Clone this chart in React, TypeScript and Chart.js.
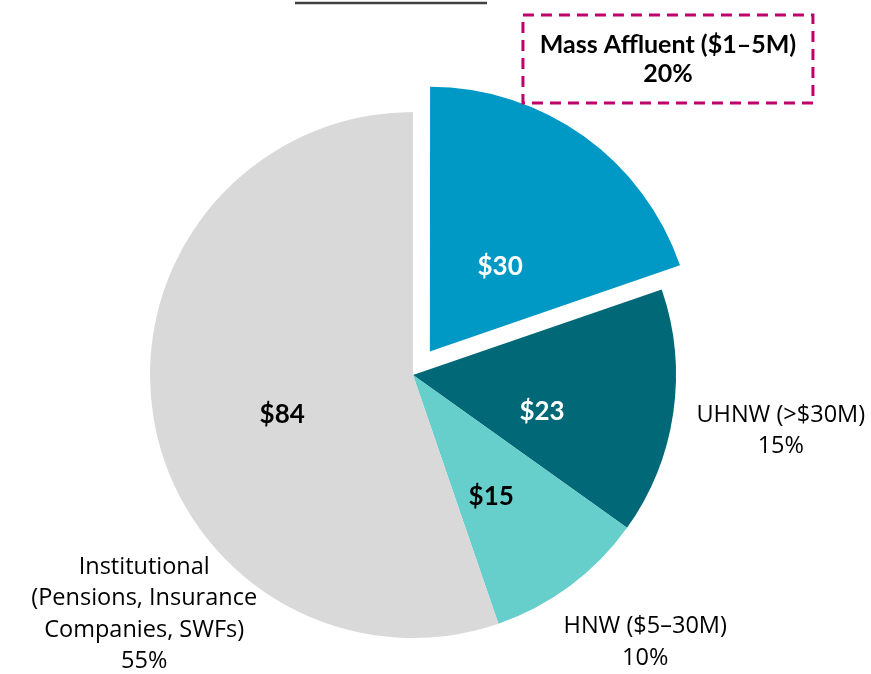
import React, { useEffect, useRef } from "react";
import { Chart, registerables } from "chart.js";

Chart.register(...registerables);

const categories = ["Mass Affluent ($1–5M)", "UHNW (>$30M)", "HNW ($5–30M)", "Institutional"];
const values = [30, 23, 15, 84];
const valueLabels = ["$30", "$23", "$15", "$84"];
const shareLabels = ["20%", "15%", "10%", "55%"];
const outerNames = [
  ["Mass Affluent ($1–5M)"],
  ["UHNW (>$30M)"],
  ["HNW ($5–30M)"],
  ["Institutional", "(Pensions, Insurance", "Companies, SWFs)"],
];
const colors = ["#0098C4", "#006876", "#66CFCB", "#D9D9D9"];
const valueColors = ["#FFFFFF", "#FFFFFF", "#000000", "#000000"];
// Chart.js translates an arc by offset/4 pixels
const offsets = [116, 0, 0, 0];

// label layout: inner (radius fraction, angle delta deg), outer (distance px, angle deg from 12 o'clock)
const innerFrac = [0.42, 0.51, 0.55, 0.52];
const innerDelta = [4, 7.6, 4, -7.5];
const outerDist = [406, 372, 354, 360];
const outerAngle = [38.9, 98.6, 139, 228.3];

const BOLD_FONT = "Lato, 'Open Sans', sans-serif";
const REG_FONT = "'Open Sans', Lato, sans-serif";

const labelPlugin = {
  id: "labels",
  afterDatasetsDraw(chart: any) {
    const ctx = chart.ctx;
    const meta = chart.getDatasetMeta(0);
    ctx.save();
    // top rule
    ctx.strokeStyle = "#404040";
    ctx.lineWidth = 2.5;
    ctx.beginPath();
    ctx.moveTo(295, 3);
    ctx.lineTo(487, 3);
    ctx.stroke();

    meta.data.forEach((arc: any, i: number) => {
      const { x, y, startAngle, endAngle, outerRadius } = arc.getProps(
        ["x", "y", "startAngle", "endAngle", "outerRadius"],
        true
      );
      const mid = (startAngle + endAngle) / 2;
      const off = (arc.options.offset || 0) / 4;
      const cx = x + Math.cos(mid) * off;
      const cy = y + Math.sin(mid) * off;
      const a = mid + (innerDelta[i] * Math.PI) / 180;
      const r = outerRadius * innerFrac[i];
      ctx.fillStyle = valueColors[i];
      ctx.font = `bold 26px ${BOLD_FONT}`;
      ctx.textAlign = "center";
      ctx.textBaseline = "middle";
      ctx.fillText(valueLabels[i], cx + Math.cos(a) * r, cy + Math.sin(a) * r);

      // outer labels
      const oa = ((outerAngle[i] - 90) * Math.PI) / 180;
      const ox = x + Math.cos(oa) * outerDist[i];
      const oy = y + Math.sin(oa) * outerDist[i];
      const lines = [...outerNames[i], shareLabels[i]];
      const lh = i === 0 ? 29 : 31.5;
      const top = oy - ((lines.length - 1) * lh) / 2;
      ctx.fillStyle = "#000000";
      ctx.font = i === 0 ? `bold 25px ${BOLD_FONT}` : `23.5px ${REG_FONT}`;
      lines.forEach((t, k) => ctx.fillText(t, ox, top + k * lh));
      if (i === 0) {
        ctx.strokeStyle = "#C0006A";
        ctx.lineWidth = 3;
        ctx.setLineDash([11, 7]);
        ctx.strokeRect(ox - 145, oy - 44, 290, 88);
        ctx.setLineDash([]);
      }
    });
    ctx.restore();
  },
};

export default function App() {
  const ref = useRef<HTMLCanvasElement>(null);
  useEffect(() => {
    const chart = new Chart(ref.current!, {
      type: "pie",
      data: {
        labels: categories,
        datasets: [
          {
            data: values,
            backgroundColor: colors,
            borderWidth: 0,
            offset: offsets,
          } as any,
        ],
      },
      options: {
        responsive: false,
        animation: false,
        radius: 263,
        layout: { padding: { left: 0, right: 45, top: 80, bottom: 4 } },
        plugins: { legend: { display: false }, tooltip: { enabled: false } },
      } as any,
      plugins: [labelPlugin],
    });
    return () => chart.destroy();
  }, []);
  return (
    <div style={{ position: "absolute", left: 0, top: 0, width: 871, height: 674, background: "#fff" }}>
      <canvas ref={ref} width={871} height={674} />
    </div>
  );
}
